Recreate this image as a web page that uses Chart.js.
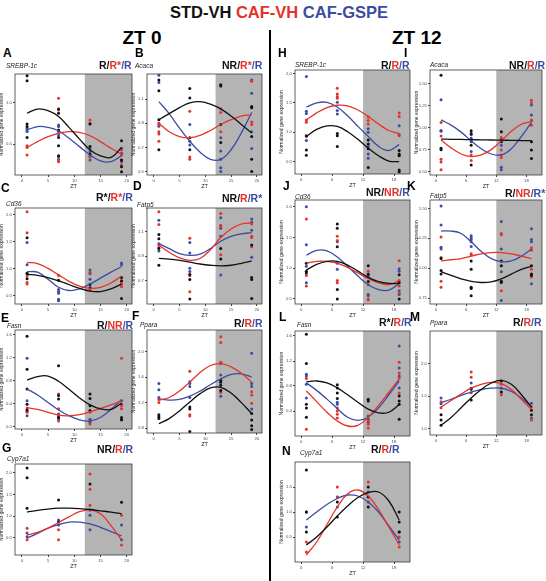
<!DOCTYPE html>
<html>
<head>
<meta charset="utf-8">
<script src="https://cdn.jsdelivr.net/npm/chart.js@4.4.1/dist/chart.umd.min.js"></script>
<style>
    body { margin: 0; width: 546px; height: 581px; background: #fff; position: relative; overflow: hidden; font-family: "Liberation Sans", Arial, sans-serif; }
    .t { position: absolute; white-space: nowrap; line-height: 1; }
    canvas { position: absolute; }
</style>
</head>
<body>
<script>
// sampling times of the points and of the fitted curves
const ztPoints = [1, 7, 13, 19];
const ztFit = [1, 3, 5, 7, 9, 11, 13, 15, 17, 19];
const xTicksZT0 = [0, 5, 10, 15, 20];
const xTicksZT12 = [0, 6, 12, 18];

// A - SREBP-1c (ZT 0)
const aStd = [[1.32, 1.26, 0.74, 0.71, 0.58], [0.92, 0.87, 0.67, 0.58, 0.48, 0.36], [0.74, 0.47, 0.38], [0.54, 0.31, 0.23, 0.17]];
const aCaf = [[0.48, 0.46, 0.37], [1.05, 0.91, 0.31, 0.29], [0.79, 0.75, 0.35], [0.43, 0.37, 0.31, 0.25]];
const aGspe = [[0.69, 0.67, 0.65], [0.73, 0.71, 0.65, 0.61, 0.35, 0.32], [0.44, 0.41, 0.35, 0.31], [0.45, 0.39, 0.29]];
const aFitStd = [0.87, 0.92, 0.90, 0.83, 0.70, 0.56, 0.43, 0.36, 0.34, 0.46];
const aFitCaf = [0.46, 0.53, 0.59, 0.63, 0.65, 0.64, 0.60, 0.53, 0.45, 0.38];
const aFitGspe = [0.67, 0.71, 0.70, 0.66, 0.57, 0.47, 0.37, 0.30, 0.29, 0.36];
const aTicks = [0.5, 1.0];

// B - Acaca (ZT 0)
const bStd = [[1.26, 1.17, 0.93, 0.68], [1.19, 1.11, 0.78, 0.68], [1.22, 1.21, 0.89, 0.74], [1.04, 1.03, 0.79, 0.60, 0.50]];
const bCaf = [[0.90, 0.89, 0.83, 0.81, 0.75], [1.00, 0.62, 0.60], [1.02, 0.99, 0.83], [1.25, 0.91, 0.89]];
const bGspe = [[1.30, 1.24, 0.875], [0.89, 0.75, 0.72], [0.78, 0.67, 0.60, 0.53, 0.50], [1.26, 1.15, 0.83, 0.69]];
const bFitStd = [0.93, 0.98, 1.03, 1.07, 1.08, 1.06, 1.02, 0.96, 0.89, 0.82];
const bFitCaf = [0.90, 0.83, 0.79, 0.78, 0.80, 0.84, 0.89, 0.93, 0.96, 0.97];
const bFitGspe = [1.08, 0.98, 0.86, 0.75, 0.66, 0.60, 0.60, 0.68, 0.82, 0.99];
const bTicks = [0.5, 0.7, 0.9, 1.1];

// C - Cd36 (ZT 0)
const cStd = [[1.57, 0.91, 0.81], [0.78], [0.70, 0.64], [0.83, 0.77, 0.44]];
const cCaf = [[2.05, 1.66, 0.86, 0.74, 0.71], [0.87], [0.93, 0.60], [0.74, 0.70, 0.66]];
const cGspe = [[1.48, 1.07, 0.90], [0.61, 0.57, 0.54, 0.43, 0.40], [0.97, 0.90, 0.80], [1.10, 1.07]];
const cFitStd = [0.89, 0.87, 0.83, 0.77, 0.70, 0.63, 0.58, 0.57, 0.62, 0.71];
const cFitCaf = [1.11, 1.09, 1.00, 0.88, 0.76, 0.67, 0.63, 0.65, 0.73, 0.86];
const cFitGspe = [0.94, 0.93, 0.80, 0.65, 0.59, 0.62, 0.71, 0.82, 0.93, 1.03];
const cTicks = [0.5, 1.0, 1.5, 2.0];

// D - Fatp5 (ZT 0)
const dStd = [[1.075, 1.04, 0.96, 0.825], [0.75, 0.71, 0.55], [0.96, 0.875], [0.99, 0.725, 0.71, 0.555]];
const dCaf = [[1.26, 1.155, 0.99, 0.97], [1.045, 0.74, 0.61], [1.245, 1.15, 1.14, 0.91], [1.16, 1.06, 1.05, 0.975]];
const dGspe = [[1.19, 1.0, 0.94], [1.01, 0.925, 0.8, 0.775], [1.21, 1.125, 1.06, 0.745], [1.2, 1.175, 1.11, 0.89]];
const dFitStd = [0.88, 0.875, 0.865, 0.85, 0.835, 0.825, 0.82, 0.825, 0.84, 0.86];
const dFitCaf = [0.99, 0.93, 0.885, 0.865, 0.88, 0.95, 1.05, 1.12, 1.16, 1.17];
const dFitGspe = [1.0, 0.96, 0.92, 0.905, 0.915, 0.96, 1.02, 1.06, 1.08, 1.09];
const dTicks = [0.7, 0.9, 1.1];

// E - Fasn (ZT 0)
const eStd = [[1.57, 1.0, 0.655, 0.39, 0.29], [1.06, 0.54, 0.48, 0.16], [0.57, 0.49, 0.365, 0.28], [0.16, 0.12]];
const eCaf = [[0.325, 0.27, 0.25], [0.57, 0.31, 0.19, 0.10], [0.25, 0.046], [1.19, 0.365, 0.31]];
const eGspe = [[1.19, 0.45, 0.19], [0.22, 0.16, 0.13], [0.13, 0.10, 0.075], [0.45, 0.39, 0.12]];
const eFitStd = [0.81, 0.87, 0.88, 0.79, 0.65, 0.50, 0.38, 0.31, 0.30, 0.41];
const eFitCaf = [0.33, 0.30, 0.25, 0.20, 0.19, 0.21, 0.26, 0.32, 0.38, 0.45];
const eFitGspe = [0.655, 0.55, 0.42, 0.29, 0.19, 0.12, 0.10, 0.16, 0.30, 0.47];
const eTicks = [0.0, 0.4, 0.8, 1.2, 1.6];

// F - Ppara (ZT 0)
const fStd = [[1.01, 0.98, 0.95], [1.13, 1.10, 0.75], [1.55, 1.52, 1.47, 1.39], [1.03, 0.93, 0.84, 0.78]];
const fCaf = [[1.20, 1.25], [1.69, 1.01, 0.99], [2.23, 2.14, 1.83, 1.36], [1.37, 1.32, 1.19]];
const fGspe = [[1.50, 1.40, 1.28], [1.525, 1.50, 1.45, 1.28], [1.81, 1.63, 1.30], [1.97, 1.50, 1.45, 1.10]];
const fFitStd = [0.87, 0.95, 1.07, 1.21, 1.34, 1.43, 1.44, 1.35, 1.20, 1.03];
const fFitCaf = [1.24, 1.28, 1.38, 1.52, 1.67, 1.78, 1.81, 1.76, 1.66, 1.52];
const fFitGspe = [1.26, 1.24, 1.25, 1.30, 1.38, 1.48, 1.57, 1.64, 1.65, 1.60];
const fTicks = [0.8, 1.2, 1.6, 2.0];

// G - Cyp7a1 (ZT 0)
const gStd = [[2.11, 1.88, 1.18], [1.37, 0.86], [1.74], [1.32]];
const gCaf = [[0.72, 0.45], [0.68, 0.45], [1.97, 1.62, 1.25], [1.02, 0.33]];
const gGspe = [[0.61, 0.52], [0.91, 0.79], [1.14, 1.02, 0.68], [0.79, 0.45]];
const gFitStd = [1.09, 1.13, 1.16, 1.18, 1.18, 1.17, 1.15, 1.12, 1.09, 1.05];
const gFitCaf = [0.56, 0.62, 0.72, 0.85, 0.98, 1.10, 1.14, 1.05, 0.78, 0.45];
const gFitGspe = [0.49, 0.60, 0.72, 0.80, 0.86, 0.86, 0.82, 0.74, 0.64, 0.54];
const gTicks = [0.5, 1.0, 1.5, 2.0];

// H - SREBP-1c (ZT 12)
const hStd = [[0.94, 0.70, 0.61], [0.98, 0.94, 0.76], [0.87, 0.80, 0.72, 0.40], [0.69, 0.63, 0.60, 0.36, 0.33]];
const hCaf = [[1.21, 1.17, 0.93], [1.75, 1.65, 1.61, 1.58], [1.26, 1.20, 1.14], [1.33, 1.27, 0.94]];
const hGspe = [[1.95, 1.36, 1.32, 0.86], [1.51, 1.37, 1.31], [1.06, 1.0, 0.76, 0.63, 0.56], [1.11, 0.96, 0.61]];
const hFitStd = [0.93, 1.05, 1.11, 1.10, 1.01, 0.88, 0.73, 0.60, 0.51, 0.50];
const hFitCaf = [1.21, 1.33, 1.42, 1.46, 1.45, 1.38, 1.27, 1.14, 1.03, 0.98];
const hFitGspe = [1.43, 1.50, 1.51, 1.43, 1.28, 1.10, 0.93, 0.76, 0.69, 0.79];
const hTicks = [0.5, 1.0, 1.5, 2.0];

// I - Acaca (ZT 12)
const iStd = [[1.60, 0.765, 0.75], [0.965, 0.935, 0.86, 0.80, 0.575], [1.10, 0.955, 0.84], [0.84, 0.745, 0.65]];
const iCaf = [[1.06, 0.905, 0.64, 0.61, 0.52], [0.69, 0.625], [0.89, 0.745, 0.69, 0.66], [1.315, 1.285, 1.09, 1.03]];
const iGspe = [[1.32, 0.97, 0.96], [0.92, 0.88, 0.84, 0.73], [0.87, 0.80, 0.55, 0.52], [1.26, 1.145, 1.08]];
const iFitStd = [0.87, 0.868, 0.866, 0.864, 0.862, 0.86, 0.858, 0.856, 0.854, 0.852];
const iFitCaf = [0.86, 0.77, 0.70, 0.67, 0.69, 0.75, 0.85, 0.96, 1.04, 1.07];
const iFitGspe = [1.09, 1.03, 0.95, 0.85, 0.76, 0.70, 0.69, 0.76, 0.90, 1.06];
const iTicks = [0.5, 0.75, 1.0, 1.25, 1.5];

// J - Cd36 (ZT 12)
const jStd = [[1.08, 0.95, 0.92], [1.72, 1.65, 1.35, 0.65, 0.495], [1.04, 0.90, 0.78], [0.89, 0.76, 0.495]];
const jCaf = [[1.80, 0.88, 0.71], [1.52, 1.45, 0.80, 0.76], [0.95, 0.73, 0.495, 0.48], [1.12, 0.80, 0.71, 0.60]];
const jGspe = [[2.0, 1.38, 1.03, 0.76], [1.43, 1.08, 0.98], [0.87, 0.57, 0.55], [0.99, 0.95, 0.63, 0.57]];
const jFitStd = [0.97, 1.06, 1.11, 1.11, 1.05, 0.95, 0.85, 0.78, 0.75, 0.75];
const jFitCaf = [1.08, 1.11, 1.11, 1.08, 1.01, 0.92, 0.83, 0.76, 0.73, 0.80];
const jFitGspe = [1.21, 1.29, 1.28, 1.18, 1.03, 0.87, 0.73, 0.65, 0.64, 0.75];
const jTicks = [0.5, 1.0, 1.5, 2.0];

// K - Fatp5 (ZT 12)
const kStd = [[1.08, 0.98, 0.95], [1.06, 0.99, 0.84, 0.83, 0.77], [1.06, 1.02, 0.89, 0.88], [1.02, 0.95, 0.94]];
const kCaf = [[1.26, 1.09, 0.89, 0.84], [1.12, 1.11], [1.29, 1.28, 0.81], [1.17, 1.15, 0.99, 0.925]];
const kGspe = [[1.52, 1.36, 1.175, 1.16], [1.27, 1.255, 1.24, 1.22, 1.18], [1.39, 1.16, 0.97, 0.73], [1.33, 1.24, 1.22, 0.87]];
const kFitStd = [0.97, 0.94, 0.91, 0.89, 0.88, 0.885, 0.91, 0.95, 0.99, 1.015];
const kFitCaf = [1.06, 1.07, 1.08, 1.10, 1.12, 1.13, 1.13, 1.12, 1.10, 1.08];
const kFitGspe = [1.31, 1.31, 1.29, 1.22, 1.14, 1.08, 1.055, 1.06, 1.10, 1.16];
const kTicks = [0.75, 1.0, 1.25, 1.5];

// L - Fasn (ZT 12)
const lStd = [[1.63, 1.16, 0.51, 0.45, 0.30], [0.82, 0.77, 0.69, 0.60], [0.59, 0.56], [0.64, 0.56, 0.51, 0.27]];
const lCaf = [[0.92, 0.11], [0.45, 0.40, 0.35, 0.29], [0.24, 0.19, 0.13], [1.18, 1.01, 0.93, 0.69]];
const lGspe = [[0.99, 0.96, 0.83, 0.61], [0.54, 0.51], [0.32, 0.27, 0.22], [1.44, 1.09, 0.96, 0.77]];
const lFitStd = [0.87, 0.88, 0.85, 0.77, 0.66, 0.54, 0.43, 0.37, 0.38, 0.50];
const lFitCaf = [0.72, 0.55, 0.38, 0.24, 0.16, 0.17, 0.30, 0.49, 0.70, 0.91];
const lFitGspe = [0.85, 0.73, 0.59, 0.44, 0.30, 0.25, 0.30, 0.45, 0.66, 0.88];
const lTicks = [0.4, 0.8, 1.2, 1.6];

// M - Ppara (ZT 12)
const mStd = [[1.21, 1.13, 1.05], [1.62, 1.44], [1.73, 1.56], [1.28, 1.21]];
const mCaf = [[1.41, 1.32], [1.87, 1.79, 1.55], [1.68, 1.52], [1.33, 1.13]];
const mGspe = [[1.47, 1.38], [1.70, 1.60], [1.62], [1.39, 1.16]];
const mFitStd = [1.05, 1.17, 1.32, 1.47, 1.60, 1.70, 1.74, 1.68, 1.52, 1.33];
const mFitCaf = [1.33, 1.43, 1.53, 1.62, 1.68, 1.71, 1.69, 1.60, 1.45, 1.29];
const mFitGspe = [1.40, 1.45, 1.51, 1.56, 1.60, 1.62, 1.62, 1.57, 1.47, 1.33];
const mTicks = [1.0, 1.5, 2.0];

// N - Cyp7a1 (ZT 12)
const nStd = [[1.84, 1.0, 0.6], [1.2, 0.9], [1.5, 1.3, 1.1], [1.0, 0.8, 0.6]];
const nCaf = [[0.4, 0.2], [1.5, 1.3], [1.6, 1.2], [0.5, 0.3]];
const nGspe = [[1.0, 0.7], [1.3, 1.1], [1.4, 1.2], [0.6, 0.4]];
const nFitStd = [0.34, 0.50, 0.70, 0.92, 1.12, 1.29, 1.39, 1.40, 1.22, 0.84];
const nFitCaf = [0.14, 0.40, 0.75, 1.10, 1.36, 1.44, 1.32, 1.05, 0.70, 0.34];
const nFitGspe = [0.84, 1.00, 1.15, 1.27, 1.34, 1.32, 1.20, 1.00, 0.72, 0.44];
const nTicks = [0.5, 1.0, 1.5];

const BLACK = '#111111';
const RED = '#e5332a';
const BLUE = '#3b4ca2';
const SHADE = '#b4b4b4';

// panel geometry (plot area in page pixels) and texts
const panels = [
    { letter: 'A', gene: 'SREBP-1c', reg: ['R', 'R*', 'R'], zt12: false, px: 15, py: 74, pw: 117, ph: 101, ymin: 0.13, ymax: 1.34, ticks: aTicks, sets: [aStd, aCaf, aGspe], fits: [aFitStd, aFitCaf, aFitGspe], lx: 3, ly: 53, gx: 6, gy: 66, rr: 132, ry: 65 },
    { letter: 'B', gene: 'Acaca', reg: ['NR', 'R*', 'R'], zt12: false, px: 147, py: 74, pw: 115, ph: 101, ymin: 0.47, ymax: 1.31, ticks: bTicks, sets: [bStd, bCaf, bGspe], fits: [bFitStd, bFitCaf, bFitGspe], lx: 135, ly: 53, gx: 135, gy: 66, rr: 262, ry: 65 },
    { letter: 'C', gene: 'Cd36', reg: ['R*', 'R*', 'R'], zt12: false, px: 15, py: 208, pw: 117, ph: 96, ymin: 0.34, ymax: 2.12, ticks: cTicks, sets: [cStd, cCaf, cGspe], fits: [cFitStd, cFitCaf, cFitGspe], lx: 1, ly: 188, gx: 6, gy: 204, rr: 133, ry: 197 },
    { letter: 'D', gene: 'Fatp5', reg: ['NR', 'R', 'R*'], zt12: false, px: 147, py: 208, pw: 115, ph: 96, ymin: 0.51, ymax: 1.29, ticks: dTicks, sets: [dStd, dCaf, dGspe], fits: [dFitStd, dFitCaf, dFitGspe], lx: 133, ly: 186, gx: 137, gy: 205, rr: 262, ry: 198 },
    { letter: 'E', gene: 'Fasn', reg: ['R', 'NR', 'R'], zt12: false, px: 15, py: 330, pw: 117, ph: 99, ymin: -0.04, ymax: 1.68, ticks: eTicks, sets: [eStd, eCaf, eGspe], fits: [eFitStd, eFitCaf, eFitGspe], lx: 1, ly: 318, gx: 7, gy: 326, rr: 133, ry: 325 },
    { letter: 'F', gene: 'Ppara', reg: ['R', 'R', 'R'], zt12: false, px: 147, py: 330, pw: 115, ph: 103, ymin: 0.725, ymax: 2.335, ticks: fTicks, sets: [fStd, fCaf, fGspe], fits: [fFitStd, fFitCaf, fFitGspe], lx: 132, ly: 316, gx: 140, gy: 325, rr: 263, ry: 323 },
    { letter: 'G', gene: 'Cyp7a1', reg: ['NR', 'R', 'R'], zt12: false, px: 15, py: 464, pw: 117, ph: 91, ymin: 0.1, ymax: 2.2, ticks: gTicks, sets: [gStd, gCaf, gGspe], fits: [gFitStd, gFitCaf, gFitGspe], lx: 2, ly: 448, gx: 7, gy: 459, rr: 133, ry: 449 },
    { letter: 'H', gene: 'SREBP-1c', reg: ['R', 'R', 'R'], zt12: true, px: 295, py: 70, pw: 115, ph: 104, ymin: 0.29, ymax: 2.06, ticks: hTicks, sets: [hStd, hCaf, hGspe], fits: [hFitStd, hFitCaf, hFitGspe], lx: 278, ly: 53, gx: 295, gy: 65, rr: 410, ry: 65 },
    { letter: 'I', gene: 'Acaca', reg: ['NR', 'R', 'R'], zt12: true, px: 430, py: 70, pw: 112, ph: 105, ymin: 0.46, ymax: 1.66, ticks: iTicks, sets: [iStd, iCaf, iGspe], fits: [iFitStd, iFitCaf, iFitGspe], lx: 404, ly: 53, gx: 430, gy: 65, rr: 545, ry: 65 },
    { letter: 'J', gene: 'Cd36', reg: ['NR', 'NR', 'R'], zt12: true, px: 295, py: 200, pw: 115, ph: 104, ymin: 0.415, ymax: 2.11, ticks: jTicks, sets: [jStd, jCaf, jGspe], fits: [jFitStd, jFitCaf, jFitGspe], lx: 283, ly: 186, gx: 295, gy: 197, rr: 410, ry: 192 },
    { letter: 'K', gene: 'Fatp5', reg: ['R', 'NR', 'R*'], zt12: true, px: 430, py: 200, pw: 112, ph: 104, ymin: 0.70, ymax: 1.57, ticks: kTicks, sets: [kStd, kCaf, kGspe], fits: [kFitStd, kFitCaf, kFitGspe], lx: 407, ly: 186, gx: 430, gy: 196, rr: 545, ry: 193 },
    { letter: 'L', gene: 'Fasn', reg: ['R*', 'R', 'R'], zt12: true, px: 295, py: 331, pw: 115, ph: 105, ymin: 0.0, ymax: 1.68, ticks: lTicks, sets: [lStd, lCaf, lGspe], fits: [lFitStd, lFitCaf, lFitGspe], lx: 279, ly: 317, gx: 297, gy: 325, rr: 412, ry: 322 },
    { letter: 'M', gene: 'Ppara', reg: ['R', 'R', 'R'], zt12: true, px: 430, py: 331, pw: 112, ph: 104, ymin: 0.9, ymax: 2.5, ticks: mTicks, sets: [mStd, mCaf, mGspe], fits: [mFitStd, mFitCaf, mFitGspe], lx: 410, ly: 317, gx: 430, gy: 323, rr: 542, ry: 322 },
    { letter: 'N', gene: 'Cyp7a1', reg: ['R', 'R', 'R'], zt12: true, px: 295, py: 462, pw: 115, ph: 100, ymin: 0.0, ymax: 2.0, ticks: nTicks, sets: [nStd, nCaf, nGspe], fits: [nFitStd, nFitCaf, nFitGspe], lx: 282, ly: 451, gx: 300, gy: 453, rr: 400, ry: 449 }
];

function addText(html, css) {
    const d = document.createElement('div');
    d.className = 't';
    d.innerHTML = html;
    Object.assign(d.style, css);
    document.body.appendChild(d);
    return d;
}

// grey "dark phase" band from ZT 12 to the end, plus the panel frame
const zonePlugin = {
    id: 'zone',
    beforeDatasetsDraw(chart) {
        const { ctx, chartArea, scales } = chart;
        const x0 = scales.x.getPixelForValue(12);
        ctx.save();
        ctx.fillStyle = SHADE;
        ctx.fillRect(x0, chartArea.top, chartArea.right - x0, chartArea.bottom - chartArea.top);
        ctx.restore();
    },
    afterDatasetsDraw(chart) {
        const { ctx, chartArea } = chart;
        ctx.save();
        ctx.strokeStyle = '#3a3a3a';
        ctx.lineWidth = 0.8;
        ctx.strokeRect(chartArea.left, chartArea.top, chartArea.right - chartArea.left, chartArea.bottom - chartArea.top);
        ctx.restore();
    }
};

function makePanel(p) {
    const axisW = 16, axisH = 15, padT = 4, padR = 4;
    const W = axisW + p.pw + padR;
    const H = padT + p.ph + axisH;
    const cv = document.createElement('canvas');
    cv.width = W;
    cv.height = H;
    cv.style.width = W + 'px';
    cv.style.height = H + 'px';
    cv.style.left = (p.px - axisW) + 'px';
    cv.style.top = (p.py - padT) + 'px';
    document.body.appendChild(cv);

    const colors = [BLACK, RED, BLUE];
    const datasets = [];
    p.sets.forEach((groups, gi) => {
        const pts = [];
        groups.forEach((vals, ti) => vals.forEach(v => pts.push({ x: ztPoints[ti], y: v })));
        datasets.push({ data: pts, pointRadius: 1.5, pointBorderWidth: 0, backgroundColor: colors[gi], borderColor: colors[gi], showLine: false, order: 2 });
    });
    p.fits.forEach((fit, gi) => {
        datasets.push({
            data: fit.map((v, i) => ({ x: ztFit[i], y: v })),
            showLine: true, pointRadius: 0, borderWidth: 1.3, borderColor: colors[gi],
            tension: 0.4, fill: false, order: 1
        });
    });

    const xt = p.zt12 ? xTicksZT12 : xTicksZT0;
    const tickFont = { size: 4.3, family: '"Liberation Sans", Arial, sans-serif' };
    const twoDecimals = p.ticks.some(t => Math.round(t * 100) % 10 !== 0);

    new Chart(cv, {
        type: 'scatter',
        data: { datasets: datasets },
        options: {
            responsive: false,
            animation: false,
            devicePixelRatio: 1,
            layout: { padding: { top: padT, right: padR, left: 0, bottom: 0 } },
            plugins: { legend: { display: false }, tooltip: { enabled: false } },
            scales: {
                x: {
                    type: 'linear',
                    min: p.zt12 ? -1.2 : -1.3,
                    max: p.zt12 ? 21.1 : 21.0,
                    afterBuildTicks: s => { s.ticks = xt.map(v => ({ value: v })); },
                    afterFit: s => { s.height = axisH; },
                    grid: { drawOnChartArea: false, tickLength: 2, color: '#444' },
                    border: { display: false },
                    ticks: { font: tickFont, color: '#4d4d4d', padding: 1, maxRotation: 0, autoSkip: false },
                    title: { display: true, text: 'ZT', font: { size: 5.5, family: '"Liberation Sans", Arial, sans-serif' }, color: '#222', padding: { top: 1, bottom: 0 } }
                },
                y: {
                    type: 'linear',
                    min: p.ymin,
                    max: p.ymax,
                    afterBuildTicks: s => { s.ticks = p.ticks.map(v => ({ value: v })); },
                    afterFit: s => { s.width = axisW; },
                    grid: { drawOnChartArea: false, tickLength: 2, color: '#444' },
                    border: { display: false },
                    ticks: { font: tickFont, color: '#4d4d4d', padding: 1, autoSkip: false, callback: v => twoDecimals ? v.toFixed(2) : v.toFixed(1) },
                    title: { display: true, text: 'Normalized gene expression', font: { size: 5, family: '"Liberation Sans", Arial, sans-serif' }, color: '#222', padding: 0 }
                }
            }
        },
        plugins: [zonePlugin]
    });

    // panel letter, gene name and rhythm labels
    addText(p.letter, { left: p.lx + 'px', top: (p.ly - 6) + 'px', fontSize: '12px', fontWeight: 'bold', color: '#000' });
    addText(p.gene, { left: p.gx + 'px', top: (p.gy - 3.5) + 'px', fontSize: '6.5px', fontStyle: 'italic', color: '#222' });
    const r = p.reg;
    const reg = addText('<span style="color:' + BLACK + '">' + r[0] + '/</span><span style="color:' + RED + '">' + r[1] + '</span><span style="color:' + BLUE + '">/' + r[2] + '</span>',
        { top: (p.ry - 5.5) + 'px', fontSize: '10.5px', fontWeight: 'bold' });
    reg.style.left = (p.rr - reg.offsetWidth) + 'px';
}

// header
addText('<span style="color:' + BLACK + '">STD-VH </span><span style="color:' + RED + '">CAF-VH </span><span style="color:' + BLUE + '">CAF-GSPE</span>',
    { left: '0px', width: '546px', textAlign: 'center', top: '4px', fontSize: '16.5px', fontWeight: 'bold' }).style.paddingLeft = '6px';
const zt0 = addText('ZT 0', { top: '28px', fontSize: '19px', fontWeight: 'bold', color: '#000' });
zt0.style.left = (142 - zt0.offsetWidth / 2) + 'px';
const zt12 = addText('ZT 12', { top: '28px', fontSize: '19px', fontWeight: 'bold', color: '#000' });
zt12.style.left = (417 - zt12.offsetWidth / 2) + 'px';
const divider = document.createElement('div');
Object.assign(divider.style, { position: 'absolute', left: '269px', top: '30px', width: '2px', height: '551px', background: '#000' });
document.body.appendChild(divider);

panels.forEach(makePanel);
</script>
</body>
</html>
